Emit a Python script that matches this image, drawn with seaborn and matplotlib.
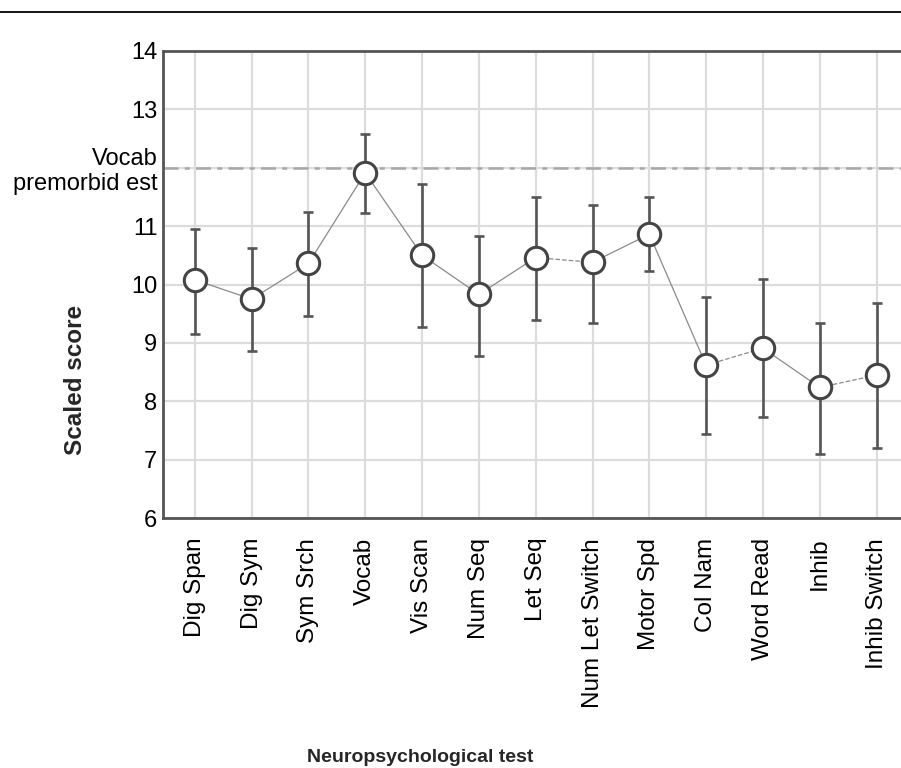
import matplotlib
matplotlib.use("Agg")
import matplotlib.pyplot as plt
import numpy as np
import pandas as pd
import seaborn as sns
from matplotlib.lines import Line2D

# ---------------- data ----------------
tests = ["Dig Span", "Dig Sym", "Sym Srch", "Vocab", "Vis Scan", "Num Seq", "Let Seq",
         "Num Let Switch", "Motor Spd", "Col Nam", "Word Read", "Inhib", "Inhib Switch"]
mean_score = [10.08, 9.75, 10.36, 11.91, 10.50, 9.83, 10.46, 10.38, 10.86, 8.62, 8.91, 8.24, 8.45]
upper_ci = [10.95, 10.62, 11.24, 12.58, 11.72, 10.83, 11.49, 11.36, 11.49, 9.79, 10.10, 9.35, 9.69]
lower_ci = [9.16, 8.87, 9.46, 11.23, 9.28, 8.78, 9.40, 9.35, 10.23, 7.44, 7.73, 7.10, 7.20]
# segment style between neighbours (True = dashed)
dashed_link = [False, False, False, False, False, False, True, False, False, True, False, True]
vocab_premorbid = 12.0
y_ticks = [6, 7, 8, 9, 10, 11, 12, 13, 14]
y_labels = ["6", "7", "8", "9", "10", "11", "Vocab\npremorbid est", "13", "14"]

df = pd.DataFrame({"test": tests, "score": mean_score, "hi": upper_ci, "lo": lower_ci})

# ---------------- style ----------------
sns.set_theme(style="white")
plt.rcParams["font.family"] = ["Liberation Sans", "DejaVu Sans"]

fig = plt.figure(figsize=(9.01, 7.68), dpi=100)
ax = fig.add_axes([0.1809, 0.3251, 0.8191, 0.6089])

pos = np.arange(len(tests))

# grid
for v in y_ticks:
    ax.axhline(v, color="#dcdcdc", lw=1.6, zorder=0)
for p in pos:
    ax.axvline(p, color="#dcdcdc", lw=1.6, zorder=0)

# premorbid reference line
ax.axhline(vocab_premorbid, color="#a8a8a8", lw=1.8, ls=(0, (6, 2.5, 2, 2.5)), zorder=1)

# connecting line
for i in range(len(tests) - 1):
    sns.lineplot(x=pos[i:i + 2], y=mean_score[i:i + 2], ax=ax, color="#8a8a8a", lw=0.9,
                 linestyle="--" if dashed_link[i] else "-", zorder=2)

# error bars
yerr = [df["score"] - df["lo"], df["hi"] - df["score"]]
ax.errorbar(pos, df["score"], yerr=yerr, fmt="none", ecolor="#555555", elinewidth=1.9,
            capsize=3.5, capthick=1.9, zorder=3)

# markers
sns.scatterplot(x=pos, y=df["score"], ax=ax, s=260, color="white", edgecolor="#444444",
                linewidth=2.2, zorder=4, legend=False)

ax.set_xlim(-0.56, 12.43)
ax.set_ylim(6, 14)
ax.set_xticks(pos)
ax.set_xticklabels(tests, rotation=90, fontsize=17.5, va="top", ha="center")
ax.set_yticks(y_ticks)
ax.set_yticklabels(y_labels, fontsize=17, linespacing=1.2)
ax.tick_params(axis="both", length=0, colors="black")
ax.tick_params(axis="x", pad=14)
ax.tick_params(axis="y", pad=4)
ax.set_xlabel("")
ax.set_ylabel("")

for s in ["left", "bottom", "top"]:
    ax.spines[s].set_color("#555555")
    ax.spines[s].set_linewidth(2.0)
ax.spines["right"].set_visible(False)

fig.text(75 / 901, 1 - 380 / 768, "Scaled score", rotation=90, fontsize=17.5,
         fontweight="bold", ha="center", va="center")
fig.text(420 / 901, 1 - 757 / 768, "Neuropsychological test", fontsize=14,
         fontweight="bold", ha="center", va="center")

fig.add_artist(Line2D([0, 1], [1 - 11.7 / 768, 1 - 11.7 / 768], color="black", lw=1.3,
                      transform=fig.transFigure))

fig.savefig("out.png", dpi=100)
